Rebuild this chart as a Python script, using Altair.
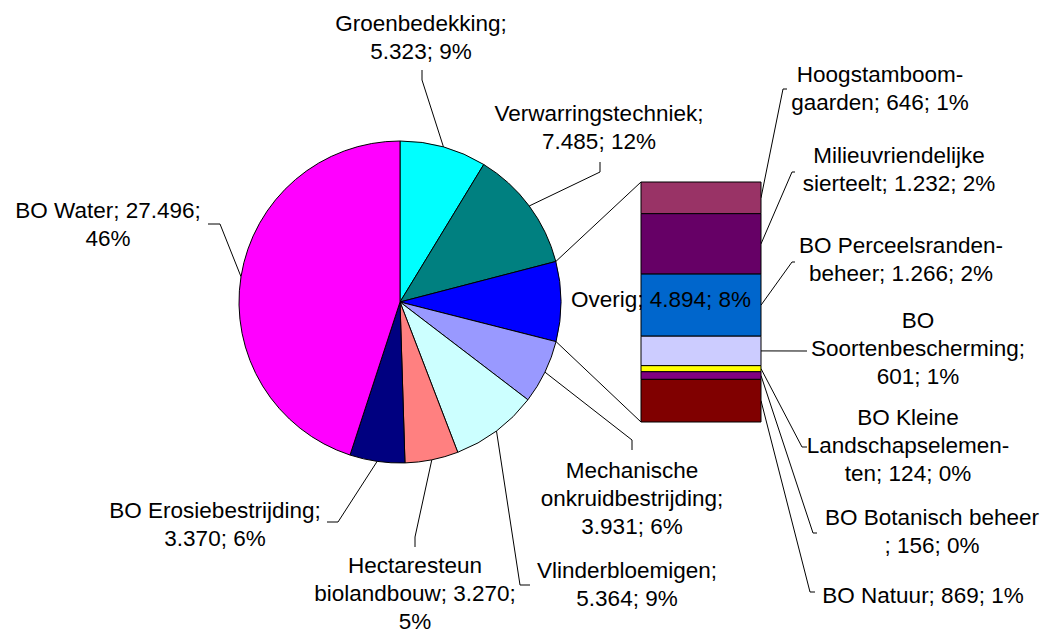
import math
import altair as alt
import pandas as pd

# ---------------- data ----------------
pie_names = ["Groenbedekking", "Verwarringstechniek", "Overig",
             "Mechanische onkruidbestrijding", "Vlinderbloemigen",
             "Hectaresteun biolandbouw", "BO Erosiebestrijding", "BO Water"]
pie_values = [5323, 7485, 4894, 3931, 5364, 3270, 3370, 27496]
pie_colors = ["#00FFFF", "#008080", "#0000FF", "#9999FF",
              "#CCFFFF", "#FF8080", "#000080", "#FF00FF"]

bar_names = ["Hoogstamboomgaarden", "Milieuvriendelijke sierteelt",
             "BO Perceelsrandenbeheer", "BO Soortenbescherming",
             "BO Kleine Landschapselementen", "BO Botanisch beheer", "BO Natuur"]
bar_values = [646, 1232, 1266, 601, 124, 156, 869]
bar_colors = ["#993366", "#660066", "#0066CC", "#CCCCFF",
              "#FFFF00", "#800080", "#800000"]

pie_label_lines = [
    ["Groenbedekking;", "5.323; 9%"],
    ["Verwarringstechniek;", "7.485; 12%"],
    ["Overig; 4.894; 8%"],
    ["Mechanische", "onkruidbestrijding;", "3.931; 6%"],
    ["Vlinderbloemigen;", "5.364; 9%"],
    ["Hectaresteun", "biolandbouw; 3.270;", "5%"],
    ["BO Erosiebestrijding;", "3.370; 6%"],
    ["BO Water; 27.496;", "46%"],
]
bar_label_lines = [
    ["Hoogstamboom-", "gaarden; 646; 1%"],
    ["Milieuvriendelijke", "sierteelt; 1.232; 2%"],
    ["BO Perceelsranden-", "beheer; 1.266; 2%"],
    ["BO", "Soortenbescherming;", "601; 1%"],
    ["BO Kleine", "Landschapselemen-", "ten; 124; 0%"],
    ["BO Botanisch beheer", "; 156; 0%"],
    ["BO Natuur; 869; 1%"],
]

# ---------------- layout (page pixels) ----------------
M = 8
W, H = 1034, 626
PIE_CX, PIE_CY, PIE_R = 400, 302, 161
BAR_L, BAR_R, BAR_TOP, BAR_BOT = 641, 761, 182, 422
FONT = "Liberation Sans"
FS = 22.5
LH = 28

# label anchor (center x, first baseline) and leader bends
pie_label_pos = [(421, 31), (599, 121), (661, 307), (632, 478),
                 (627, 578), (415, 573), (215, 518), (108, 218)]
pie_leader_pts = [
    [(422, 80), (422, 70)],
    [(600, 172), (600, 162)],
    None,
    [(632, 440), (632, 450)],
    [(520, 585), (530, 585)],
    [(415, 537), (415, 547)],
    [(338, 522), (327, 522)],
    [(220, 224), (208, 224)],
]
bar_label_pos = [(880, 82), (899, 163), (901, 253), (918, 328),
                 (908, 425), (932, 525), (923, 603)]
bar_leader_pts = [
    [(783, 89), (787, 89)],
    [(792, 172), (795, 172)],
    [(792, 262), (795, 262)],
    [(807, 351)],
    [(802, 447), (807, 447)],
    [(813, 533), (817, 533)],
    [(810, 592), (815, 592)],
]

# ---------------- derived tables ----------------
pie_total = sum(pie_values)
bar_total = sum(bar_values)

cum = 0
pie_rows = []
for n, v in zip(pie_names, pie_values):
    pie_rows.append({"name": n, "t0": cum, "t1": cum + v, "cx": PIE_CX, "cy": PIE_CY})
    cum += v
pie_df = pd.DataFrame(pie_rows)

bar_rows = []
for i, (n, v) in enumerate(zip(bar_names, bar_values)):
    top = sum(bar_values[i:])
    bar_rows.append({"name": n, "b0": top - v, "b1": top, "bx0": BAR_L, "bx1": BAR_R})
bar_df = pd.DataFrame(bar_rows)


def pie_point(frac):
    a = frac * 2 * math.pi
    return (PIE_CX + PIE_R * math.sin(a), PIE_CY - PIE_R * math.cos(a))


def bar_y(val):
    return BAR_BOT - val / bar_total * (BAR_BOT - BAR_TOP)


line_rows = []
for i, r in enumerate(pie_rows):
    if pie_leader_pts[i] is None:
        continue
    pts = [pie_point((r["t0"] + r["t1"]) / 2 / pie_total)] + pie_leader_pts[i]
    for k, (x, y) in enumerate(pts):
        line_rows.append({"g": "p" + str(i), "k": k, "x": x, "y": y})
for i, r in enumerate(bar_rows):
    pts = [(BAR_R, bar_y((r["b0"] + r["b1"]) / 2))] + bar_leader_pts[i]
    for k, (x, y) in enumerate(pts):
        line_rows.append({"g": "b" + str(i), "k": k, "x": x, "y": y})
# connectors from the "Overig" slice to the bar
ov = pie_rows[2]
for k, (x, y) in enumerate([pie_point(ov["t0"] / pie_total), (BAR_L, BAR_TOP)]):
    line_rows.append({"g": "c0", "k": k, "x": x, "y": y})
for k, (x, y) in enumerate([pie_point(ov["t1"] / pie_total), (BAR_L, BAR_BOT)]):
    line_rows.append({"g": "c1", "k": k, "x": x, "y": y})
line_df = pd.DataFrame(line_rows)

text_rows = []
for lines, (x, y) in zip(pie_label_lines + bar_label_lines, pie_label_pos + bar_label_pos):
    text_rows.append({"x": x, "y": y, "lines": lines})
text_df = pd.DataFrame(text_rows)

# ---------------- chart ----------------
XS = alt.Scale(domain=[M, M + W], range=[0, W], nice=False, zero=False)
YS = alt.Scale(domain=[M, M + H], range=[0, H], nice=False, zero=False)
COLS = alt.Scale(domain=pie_names + bar_names, range=pie_colors + bar_colors)

pie = alt.Chart(pie_df).mark_arc(radius=PIE_R, stroke="black", strokeWidth=1).encode(
    x=alt.X("cx:Q", scale=XS, axis=None),
    y=alt.Y("cy:Q", scale=YS, axis=None),
    theta=alt.Theta("t0:Q", scale=alt.Scale(domain=[0, pie_total], range=[0, 2 * math.pi])),
    theta2="t1:Q",
    color=alt.Color("name:N", scale=COLS, legend=None),
)

bar = alt.Chart(bar_df).mark_rect(stroke="black", strokeWidth=1).encode(
    x=alt.X("bx0:Q", scale=XS, axis=None),
    x2="bx1:Q",
    y=alt.Y("b0:Q", scale=alt.Scale(domain=[0, bar_total],
                                    range=[BAR_BOT - M, BAR_TOP - M], nice=False), axis=None),
    y2="b1:Q",
    color=alt.Color("name:N", scale=COLS, legend=None),
)

lines = alt.Chart(line_df).mark_line(color="black", strokeWidth=1).encode(
    x=alt.X("x:Q", scale=XS, axis=None),
    y=alt.Y("y:Q", scale=YS, axis=None),
    detail="g:N",
    order="k:Q",
)

texts = alt.Chart(text_df).mark_text(
    font=FONT, fontSize=FS, lineHeight=LH, align="center", baseline="alphabetic", color="black"
).encode(
    x=alt.X("x:Q", scale=XS, axis=None),
    y=alt.Y("y:Q", scale=YS, axis=None),
    text="lines",
)

chart = alt.layer(lines, pie, bar, texts).resolve_scale(y="independent").properties(
    width=W, height=H, padding=0, autosize="none", background="white"
).configure_view(stroke=None)

chart.save("out.html", embed_options={"renderer": "svg", "actions": False})
